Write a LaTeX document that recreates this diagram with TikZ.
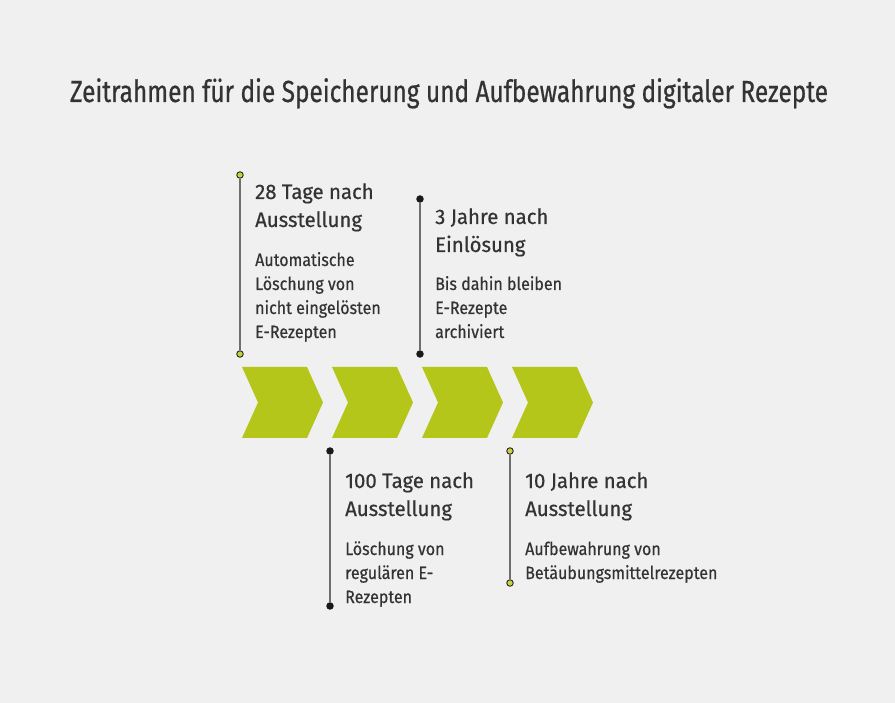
\documentclass[tikz,border=0pt]{standalone}
\usepackage{fontspec}
\setmainfont[FakeStretch=0.9,FakeBold=0.5]{Fira Sans}
\newfontfamily\titlefont[FakeStretch=0.80,FakeBold=0.6]{Fira Sans}
\newfontfamily\headfont[FakeStretch=0.97,FakeBold=0.5]{Fira Sans}
\definecolor{bg}{HTML}{F0F0F0}
\definecolor{chev}{HTML}{B5C61A}
\definecolor{dotgreen}{HTML}{C5D23A}
\definecolor{txt}{HTML}{333333}
\definecolor{vline}{HTML}{6E6E6E}
\tikzset{
  chevron/.style={fill=chev, draw=none},
  gdot/.style={circle, fill=dotgreen, draw=black!85, line width=0.9pt, inner sep=0pt, minimum size=6.5pt},
  bdot/.style={circle, fill=black!90, draw=black!90, line width=0.9pt, inner sep=0pt, minimum size=6.5pt},
  tline/.style={draw=vline, line width=2pt},
  head/.style={anchor=base west, inner sep=0pt, text=txt, font=\headfont\fontsize{21}{21}\selectfont},
  body/.style={anchor=base west, inner sep=0pt, text=txt, font=\fontsize{17.8}{17.8}\selectfont},
}
\begin{document}
\begin{tikzpicture}[x=1pt,y=-1pt]
\fill[bg] (0,0) rectangle (895,703);
\useasboundingbox (0,0) rectangle (895,703);
% title
\node[anchor=base, inner sep=0pt, text=txt, font=\titlefont\fontsize{30.5}{30.5}\selectfont] (title) at (449,102) {Zeitrahmen für die Speicherung und Aufbewahrung digitaler Rezepte};
% chevrons
\foreach \x in {242,332,422,512}{
  \fill[chevron] (\x,367) -- ++(65,0) -- ++(16,35.5) -- ++(-16,35.5) -- ++(-65,0) -- ++(16,-35.5) -- cycle;
}
% timeline markers
\node[gdot] (a1) at (240,175) {};
\node[gdot] (a2) at (240,354) {};
\node[bdot] (b1) at (420,199) {};
\node[bdot] (b2) at (420,354) {};
\node[bdot] (c1) at (330,451) {};
\node[bdot] (c2) at (330,606) {};
\node[gdot] (d1) at (510,451) {};
\node[gdot] (d2) at (510,583) {};
\draw[tline] (a1) -- (a2);
\draw[tline] (b1) -- (b2);
\draw[tline] (c1) -- (c2);
\draw[tline] (d1) -- (d2);
% block 1
\node[head] (a1h1) at (255,199) {28 Tage nach};
\node[head] (a1h2) at (255,227) {Ausstellung};
\node[body] (a1t1) at (255,266) {Automatische};
\node[body] (a1t2) at (255,290) {Löschung von};
\node[body] (a1t3) at (255,314) {nicht eingelösten};
\node[body] (a1t4) at (255,338) {E-Rezepten};
% block 2
\node[head] (b1h1) at (435,224) {3 Jahre nach};
\node[head] (b1h2) at (435,252) {Einlösung};
\node[body] (b1t1) at (435,290) {Bis dahin bleiben};
\node[body] (b1t2) at (435,314) {E-Rezepte};
\node[body] (b1t3) at (435,338) {archiviert};
% block 3
\node[head] (c1h1) at (345,488) {100 Tage nach};
\node[head] (c1h2) at (345,516) {Ausstellung};
\node[body] (c1t1) at (345,555) {Löschung von};
\node[body] (c1t2) at (345,579) {regulären E-};
\node[body] (c1t3) at (345,603) {Rezepten};
% block 4
\node[head] (d1h1) at (525,488) {10 Jahre nach};
\node[head] (d1h2) at (525,516) {Ausstellung};
\node[body] (d1t1) at (525,555) {Aufbewahrung von};
\node[body] (d1t2) at (525,579) {Betäubungsmittelrezepten};
\end{tikzpicture}
\end{document}
